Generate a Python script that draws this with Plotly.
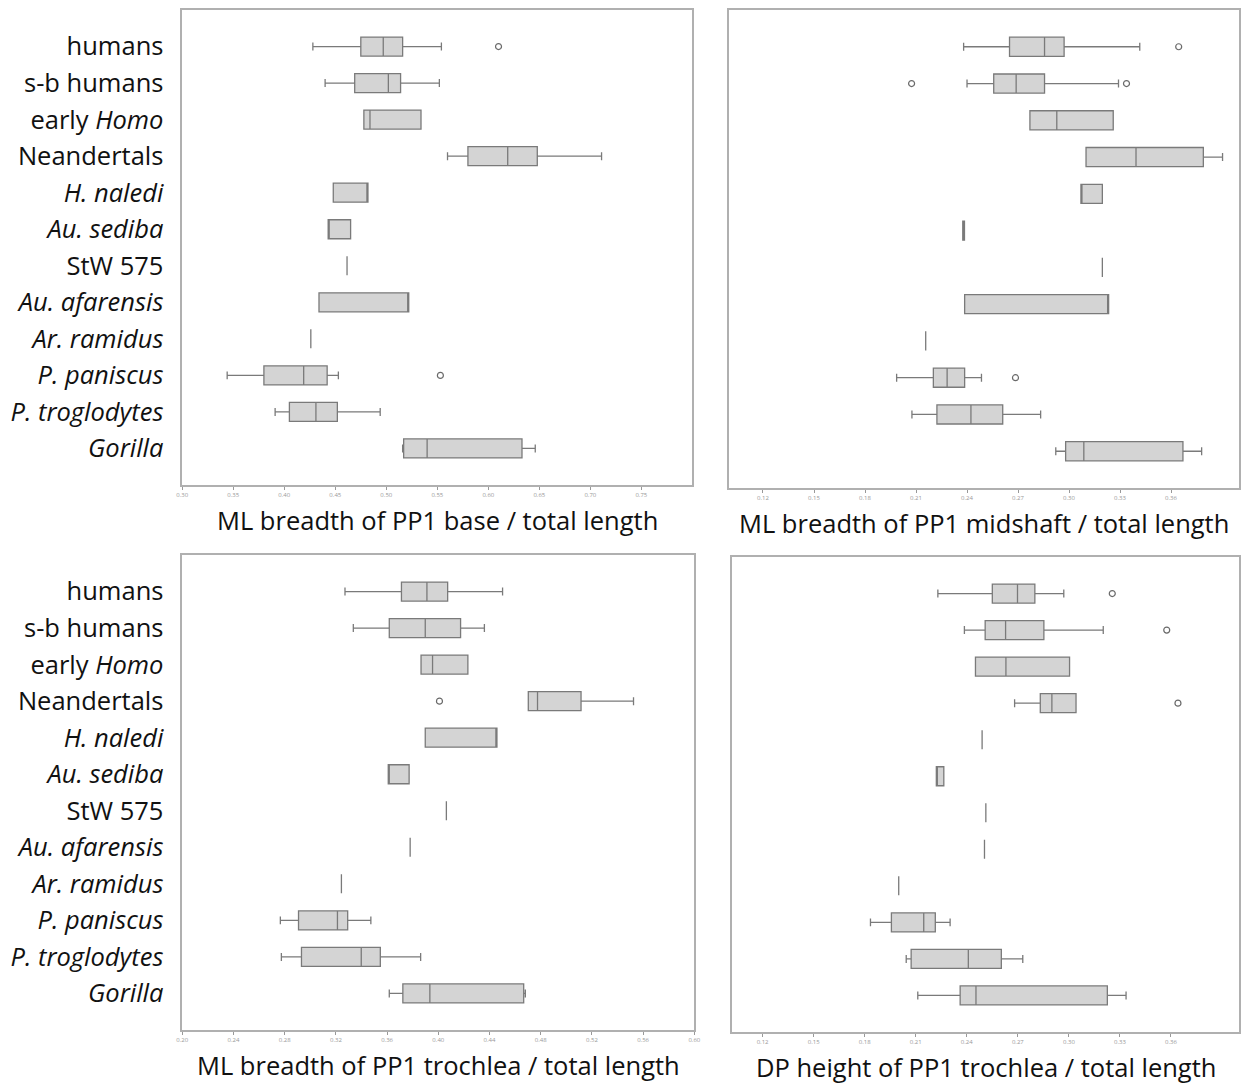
import plotly.graph_objects as go

# Taxa, top to bottom
categories = ["humans", "s-b humans", "early <i>Homo</i>", "Neandertals", "<i>H. naledi</i>",
              "<i>Au. sediba</i>", "StW 575", "<i>Au. afarensis</i>", "<i>Ar. ramidus</i>",
              "<i>P. paniscus</i>", "<i>P. troglodytes</i>", "<i>Gorilla</i>"]

# ML breadth of PP1 base / total length
base_lo = [0.428, 0.440, 0.478, 0.560, 0.448, 0.443, 0.4615, 0.434, 0.426, 0.344, 0.391, 0.516]
base_q1 = [0.475, 0.469, 0.478, 0.580, 0.448, 0.443, 0.4615, 0.434, 0.426, 0.380, 0.405, 0.517]
base_med = [0.497, 0.502, 0.484, 0.619, 0.481, 0.4435, 0.4615, 0.521, 0.426, 0.419, 0.431, 0.540]
base_q3 = [0.516, 0.514, 0.534, 0.648, 0.482, 0.465, 0.4615, 0.522, 0.426, 0.442, 0.452, 0.633]
base_hi = [0.554, 0.552, 0.534, 0.711, 0.482, 0.465, 0.4615, 0.522, 0.426, 0.453, 0.494, 0.646]
base_out_cat = [0, 9]
base_out_val = [0.610, 0.553]

# ML breadth of PP1 midshaft / total length
mid_lo = [0.238, 0.240, 0.277, 0.310, 0.307, 0.2375, 0.3196, 0.2386, 0.2157, 0.1986, 0.2076, 0.2922]
mid_q1 = [0.265, 0.2557, 0.277, 0.310, 0.307, 0.2375, 0.3196, 0.2386, 0.2157, 0.2202, 0.2223, 0.298]
mid_med = [0.2856, 0.2689, 0.2928, 0.3394, 0.3075, 0.238, 0.3196, 0.323, 0.2157, 0.2283, 0.2423, 0.3087]
mid_q3 = [0.2971, 0.2856, 0.326, 0.379, 0.3196, 0.2385, 0.3196, 0.3233, 0.2157, 0.2386, 0.261, 0.367]
mid_hi = [0.3416, 0.3291, 0.326, 0.3903, 0.3196, 0.2385, 0.3196, 0.3233, 0.2157, 0.2485, 0.2833, 0.378]
mid_out_cat = [0, 1, 1, 9]
mid_out_val = [0.3645, 0.2074, 0.3338, 0.2685]

# ML breadth of PP1 trochlea / total length
troML_lo = [0.3271, 0.3336, 0.3865, 0.4703, 0.3898, 0.3609, 0.4063, 0.378, 0.3243, 0.2766, 0.2774, 0.3617]
troML_q1 = [0.3712, 0.3617, 0.3865, 0.4703, 0.3898, 0.3609, 0.4063, 0.378, 0.3243, 0.2908, 0.2931, 0.3723]
troML_med = [0.3911, 0.3898, 0.3955, 0.4775, 0.445, 0.361, 0.4063, 0.378, 0.3243, 0.3212, 0.3398, 0.3934]
troML_q3 = [0.4073, 0.4174, 0.4231, 0.5115, 0.4458, 0.3772, 0.4063, 0.378, 0.3243, 0.3292, 0.3547, 0.4667]
troML_hi = [0.4502, 0.436, 0.4231, 0.5525, 0.4458, 0.3772, 0.4063, 0.378, 0.3243, 0.3473, 0.3862, 0.468]
troML_out_cat = [3]
troML_out_val = [0.4009]

# DP height of PP1 trochlea / total length
troDP_lo = [0.223, 0.2386, 0.2451, 0.2681, 0.249, 0.2221, 0.2512, 0.2504, 0.2000, 0.1834, 0.2044, 0.2112]
troDP_q1 = [0.255, 0.2508, 0.2451, 0.2832, 0.249, 0.2221, 0.2512, 0.2504, 0.2000, 0.1957, 0.2073, 0.2361]
troDP_med = [0.2698, 0.2628, 0.263, 0.290, 0.249, 0.2222, 0.2512, 0.2504, 0.2000, 0.2147, 0.2409, 0.2454]
troDP_q3 = [0.280, 0.2853, 0.3004, 0.3042, 0.249, 0.2265, 0.2512, 0.2504, 0.2000, 0.2215, 0.2603, 0.3226]
troDP_hi = [0.297, 0.3202, 0.3004, 0.3042, 0.249, 0.2265, 0.2512, 0.2504, 0.2000, 0.2302, 0.2729, 0.3336]
troDP_out_cat = [0, 1, 3]
troDP_out_val = [0.3255, 0.3575, 0.3641]

titles = ["ML breadth of PP1 base / total length",
          "ML breadth of PP1 midshaft / total length",
          "ML breadth of PP1 trochlea / total length",
          "DP height of PP1 trochlea / total length"]

x_ticks = [
    [0.30, 0.35, 0.40, 0.45, 0.50, 0.55, 0.60, 0.65, 0.70, 0.75],
    [0.12, 0.15, 0.18, 0.21, 0.24, 0.27, 0.30, 0.33, 0.36],
    [0.20, 0.24, 0.28, 0.32, 0.36, 0.40, 0.44, 0.48, 0.52, 0.56, 0.60],
    [0.12, 0.15, 0.18, 0.21, 0.24, 0.27, 0.30, 0.33, 0.36],
]
x_ranges = [[0.30, 0.80], [0.10, 0.40], [0.20, 0.60], [0.102, 0.40]]

W, H = 1250, 1090
# panel frames in pixels: left, right, top, bottom
frames = [(178, 693, 10, 485), (730, 1245, 10, 488), (178, 695, 555, 1030), (733, 1245, 557, 1032)]

panels = [
    (base_lo, base_q1, base_med, base_q3, base_hi, base_out_cat, base_out_val),
    (mid_lo, mid_q1, mid_med, mid_q3, mid_hi, mid_out_cat, mid_out_val),
    (troML_lo, troML_q1, troML_med, troML_q3, troML_hi, troML_out_cat, troML_out_val),
    (troDP_lo, troDP_q1, troDP_med, troDP_q3, troDP_hi, troDP_out_cat, troDP_out_val),
]

fig = go.Figure()
positions = list(range(len(categories)))
font_family = "Open Sans, Noto Sans, sans-serif"

for i, (lo, q1, med, q3, hi, oc, ov) in enumerate(panels):
    n = "" if i == 0 else str(i + 1)
    fig.add_trace(go.Box(
        y=positions, q1=q1, median=med, q3=q3, lowerfence=lo, upperfence=hi,
        orientation="h", width=0.52, whiskerwidth=0.42,
        fillcolor="#d4d4d4", line=dict(color="#7a7a7a", width=1.3),
        boxpoints=False, showlegend=False,
        xaxis="x" + n, yaxis="y" + n,
    ))
    fig.add_trace(go.Scatter(
        x=ov, y=oc, mode="markers", showlegend=False,
        marker=dict(symbol="circle-open", size=6, color="#6a6a6a", line=dict(width=1.2)),
        xaxis="x" + n, yaxis="y" + n,
    ))

    l, r, t, b = frames[i]
    xdom = [l / W, r / W]
    ydom = [1 - b / H, 1 - t / H]
    fig.layout["xaxis" + n] = dict(
        domain=xdom, range=x_ranges[i], anchor="y" + n,
        tickvals=x_ticks[i], ticktext=["%.2f" % v for v in x_ticks[i]],
        ticks="outside", ticklen=3, tickcolor="#999",
        tickfont=dict(size=6, color="#999", family=font_family),
        showgrid=False, zeroline=False,
        showline=True, linecolor="#b0b0b0", linewidth=1.5, mirror=True,
    )
    fig.layout["yaxis" + n] = dict(
        domain=ydom, range=[12, -1], anchor="x" + n,
        tickvals=positions, ticktext=categories,
        showticklabels=(i in (0, 2)), ticks="",
        ticklabelstandoff=12,
        tickfont=dict(size=25.5, color="#111", family=font_family),
        showgrid=False, zeroline=False,
        showline=True, linecolor="#b0b0b0", linewidth=1.5, mirror=True,
    )
    fig.add_annotation(
        x=(l + r) / 2 / W, y=1 - (b + 35) / H, xref="paper", yref="paper",
        text=titles[i], showarrow=False, xanchor="center", yanchor="middle",
        font=dict(size=25.5, color="#111", family=font_family),
    )

fig.update_layout(
    width=W, height=H, margin=dict(l=0, r=0, t=0, b=0),
    paper_bgcolor="white", plot_bgcolor="white",
)

fig.write_html("out.html")
